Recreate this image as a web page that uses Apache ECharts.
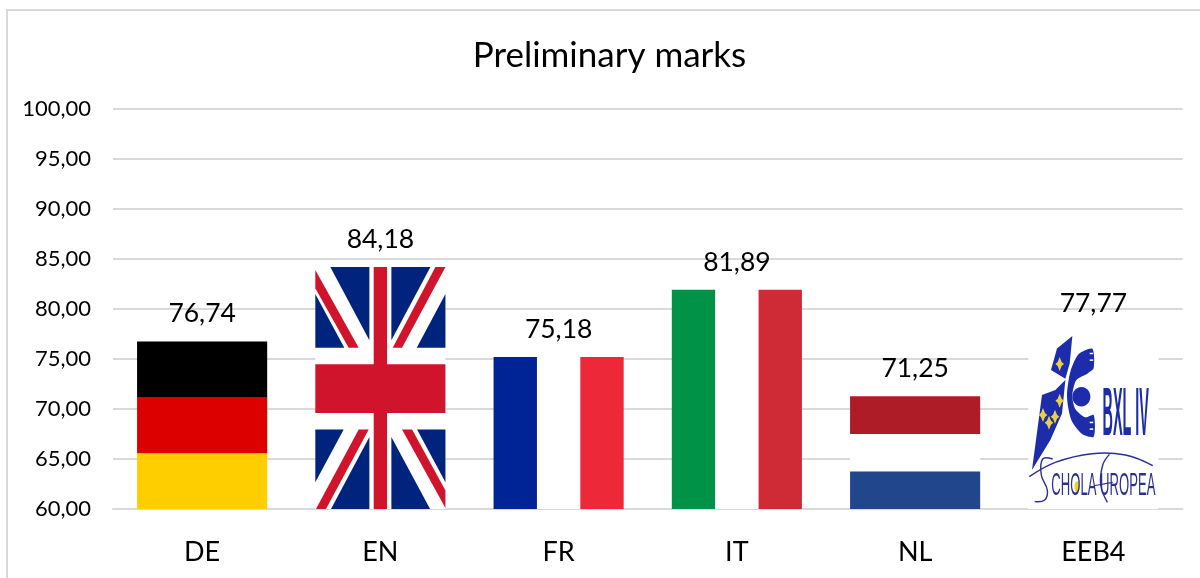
<!DOCTYPE html>
<html><head><meta charset="utf-8">
<style>html,body{margin:0;padding:0;background:#fff}#c{width:1200px;height:578px}</style>
<script src="https://cdn.jsdelivr.net/npm/echarts@6/dist/echarts.min.js"></script>
</head><body><div id="c"></div>
<script>
const categories = ['DE','EN','FR','IT','NL','EEB4'];
const marks = [76.74,84.18,75.18,81.89,71.25,77.77];
const chartTitle = 'Preliminary marks';
const axisMin = 60, axisMax = 100, axisStep = 5;

const FONT = 'Lato, "Open Sans", sans-serif';
const comma = v => Number(v).toFixed(2).replace('.', ',');
const BAR_SHARE = 0.73;

function rect(x,y,w,h,fill){return {type:'rect',shape:{x,y,width:w,height:h},style:{fill}};}
function stripesH(b,cols){const s=b.h/cols.length;return cols.map((c,i)=>rect(b.x,b.y+i*s,b.w,s+(i<cols.length-1?0.5:0),c));}
function stripesV(b,cols){const s=b.w/cols.length;return cols.map((c,i)=>rect(b.x+i*s,b.y,s+(i<cols.length-1?0.5:0),b.h,c));}

function ukFlag(b){
  const B='#00247d',R='#cf142b';
  const m=(p)=>[b.x+(p[0]-78)/390*b.w,b.y+(p[1]-141)/724*b.h];
  const poly=(pts,fill)=>({type:'polygon',shape:{points:pts.map(m)},style:{fill}});
  return [
    rect(b.x,b.y,b.w,b.h,'#fff'),
    poly([[123,141],[240,141],[240,360]],B),
    poly([[78,222],[78,383],[165,383]],B),
    poly([[306,141],[423,141],[306,360]],B),
    poly([[468,222],[468,383],[382,383]],B),
    poly([[78,627],[163,627],[78,785]],B),
    poly([[240,650],[240,865],[125,865]],B),
    poly([[306,650],[306,865],[422,865]],B),
    poly([[383,627],[468,627],[468,785]],B),
    poly([[78,150],[208,383],[178,383],[78,205]],R),
    poly([[438,141],[468,141],[338,383],[310,383]],R),
    poly([[208,627],[238,627],[110,865],[80,865]],R),
    poly([[338,627],[368,627],[468,810],[468,862]],R),
    poly([[253,141],[293,141],[293,865],[253,865]],R),
    poly([[78,432],[468,432],[468,578],[78,578]],R)
  ];
}

function logo(b){
  const BL='#1c2cab', Y='#e9cf45', INK='#2b2f8f';
  const sx=b.w/130, sy=b.h/178;
  const m=(p)=>[b.x+(p[0]/3-18)*sx,b.y+(p[1]/3-51)*sy];
  const m8=(p)=>[b.x+(p[0]/3-3)*sx,b.y+(114+p[1]/3)*sy];
  const poly=(pts,fill,smooth)=>({type:'polygon',shape:{points:pts.map(m),smooth:smooth||0},style:{fill}});
  const line=(pts,w)=>({type:'polyline',shape:{points:pts.map(m8),smooth:0.4},style:{stroke:INK,lineWidth:w||1.4,fill:null}});
  const star=(c)=>{const p=[[0,-21],[6,-6],[13,0],[6,6],[0,21],[-6,6],[-13,0],[-6,-6]].map(d=>[c[0]+d[0],c[1]+d[1]]);return poly(p,Y);};
  const ell=(c,rx,ry,fill)=>{const q=m(c);return {type:'ellipse',shape:{cx:q[0],cy:q[1],rx:rx*sx/3,ry:ry*sy/3},style:{fill}};};
  const finger=(x,y)=>{const q=m([x,y]);return rect(q[0],q[1],3.5,1.5,'#fff');};
  const p8=m8([155,125]);
  const bxl=m([346,409]);
  return [
    rect(b.x,b.y,b.w,b.h,'#fff'),
    // upper and lower flag pieces
    poly([[186,168],[140,205],[122,270],[165,296],[178,250]],BL),
    poly([[165,300],[155,400],[120,480],[65,570],[95,345],[135,330]],BL),
    star([148,252]),star([148,362]),star([98,405]),star([116,428]),star([134,410]),
    // the C
    poly([[246,206],[205,222],[180,275],[170,350],[183,420],[215,462],[250,470],[250,405],[225,412],[194,385],[186,345],[198,300],[232,280],[250,264]],BL,0.25),
    ell([213,350],27,29,BL),
    finger(238,218),finger(238,238),finger(238,425),finger(238,445),
    {type:'text',x:bxl[0],y:bxl[1],scaleX:0.72*sx,scaleY:3.4*sy,
      style:{text:'BXL IV',x:0,y:0,align:'center',verticalAlign:'middle',fill:BL,font:'bold 20px "Liberation Sans", sans-serif'}},
    // lower lettering
    {type:'ellipse',shape:{cx:p8[0],cy:p8[1],rx:2.6*sx,ry:5.5*sy},style:{fill:'#f0d020'}},
    {type:'text',x:b.x+75*sx,y:b.y+155*sy,scaleX:1.09*sx,scaleY:2.6*sy,
      style:{text:'CHOLA UROPEA',x:0,y:0,align:'center',verticalAlign:'middle',fill:INK,font:'12px "Liberation Sans", sans-serif'}},
    line([[12,95],[90,52],[200,26],[300,30],[382,62]],1.5),
    line([[82,42],[52,42],[48,90],[66,135],[58,165],[28,170]]),
    line([[252,28],[232,60],[226,120],[246,172]]),
    line([[205,122],[262,112]],1.1)
  ];
}

const painters = {
  DE:b=>stripesH(b,['#000000','#dd0000','#ffce00']),
  EN:ukFlag,
  FR:b=>stripesV(b,['#002395','#ffffff','#ed2939']),
  IT:b=>stripesV(b,['#009246','#ffffff','#ce2b37']),
  NL:b=>stripesH(b,['#ae1c28','#ffffff','#21468b']),
  EEB4:logo
};

function renderFlag(params, api){
  const i=api.value(0);
  const top=api.coord([i,api.value(1)]);
  const bottom=api.coord([i,axisMin]);
  const w=api.size([1,0])[0]*BAR_SHARE;
  const b={x:top[0]-w/2,y:top[1],w,h:bottom[1]-top[1]};
  return {type:'group',children:painters[categories[i]](b)};
}

const chart=echarts.init(document.getElementById('c'),null,{renderer:'canvas'});
chart.setOption({
  animation:false,
  backgroundColor:'#ffffff',
  title:{text:chartTitle,left:604.5,top:33,textAlign:'center',
    textStyle:{fontFamily:FONT,fontSize:35,fontWeight:'normal',color:'#000'}},
  grid:{left:113,right:17.5,top:108.5,bottom:69,containLabel:false},
  xAxis:{type:'category',data:categories,
    axisLine:{lineStyle:{color:'#d9d9d9',width:2}},axisTick:{show:false},
    axisLabel:{fontFamily:FONT,fontSize:27,color:'#000',margin:30}},
  yAxis:{type:'value',min:axisMin,max:axisMax,interval:axisStep,
    axisLine:{show:false},axisTick:{show:false},
    splitLine:{lineStyle:{color:'#d9d9d9',width:2}},
    axisLabel:{fontFamily:FONT,fontSize:22,color:'#000',margin:22,formatter:v=>comma(v)}},
  graphic:[
    {type:'line',shape:{x1:7,y1:10,x2:7,y2:578},style:{stroke:'#d9d9d9',lineWidth:2},silent:true},
    {type:'line',shape:{x1:6,y1:10,x2:1200,y2:10},style:{stroke:'#d9d9d9',lineWidth:2},silent:true}
  ],
  series:[
    {type:'custom',name:'flags',renderItem:renderFlag,clip:false,z:2,
      encode:{x:0,y:1},data:marks.map((v,i)=>[i,v])},
    {type:'bar',name:'Preliminary marks',data:marks,barWidth:(BAR_SHARE*100)+'%',z:3,
      itemStyle:{color:'rgba(0,0,0,0)'},
      label:{show:true,position:'top',distance:14,fontFamily:FONT,fontSize:26.5,color:'#000',
        formatter:p=>comma(p.value)}}
  ]
});
</script></body></html>
